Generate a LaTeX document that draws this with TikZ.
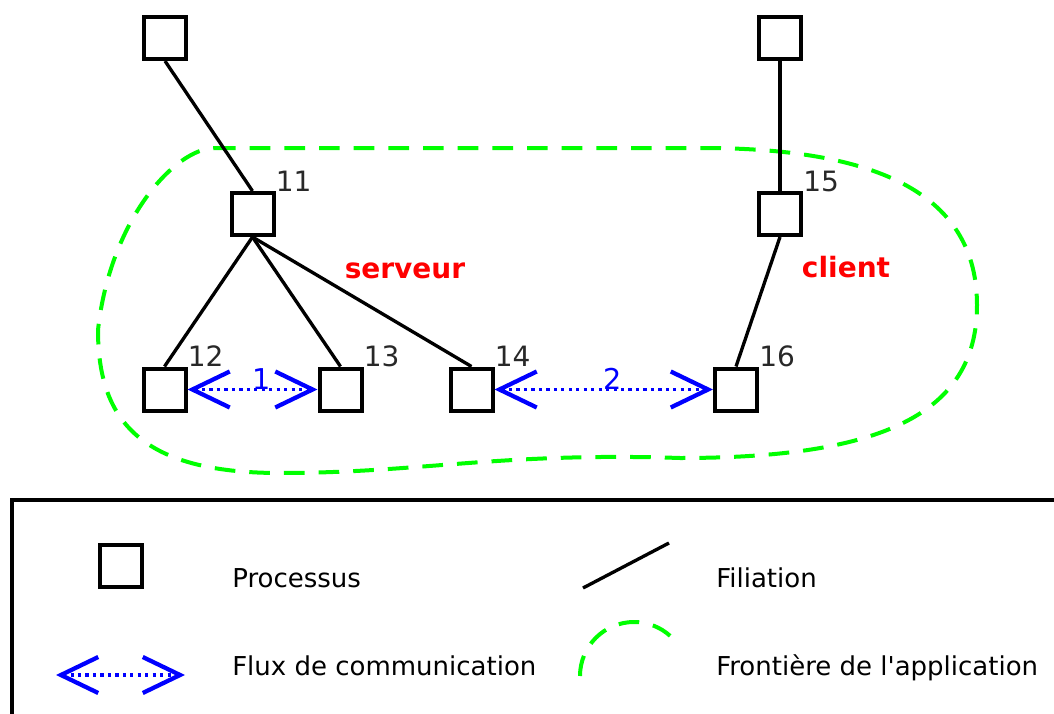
\documentclass[tikz,border=0pt]{standalone}
\usepackage{fontspec}
\setmainfont{DejaVu Sans}[Ligatures=TeXOff]
\usetikzlibrary{arrows.meta}
\definecolor{bgreen}{RGB}{0,255,0}
\definecolor{numgray}{RGB}{40,40,40}
\begin{document}
\begin{tikzpicture}[x=0.75pt,y=-0.75pt,
  proc/.style={draw=black, line width=3pt, minimum size=31.5pt, inner sep=0pt, fill=white},
  fil/.style={draw=black, line width=2.5pt},
  com/.style={draw=blue, line width=2.4pt, dash pattern=on 2.4pt off 3.2pt,
    >={Straight Barb[length=28pt,width=27pt,line width=3.2pt]}, <->},
  numlab/.style={font=\fontsize{21}{24}\selectfont, text=numgray, inner sep=0pt, anchor=base west},
  comlab/.style={font=\fontsize{21.5}{24}\selectfont, text=blue, inner sep=0pt, anchor=base},
  role/.style={font=\bfseries\fontsize{21}{24}\selectfont, text=red, inner sep=0pt, anchor=base},
  border/.style={draw=bgreen, line width=3pt, dash pattern=on 15.5pt off 10.5pt},
  legtext/.style={font=\fontsize{19.5}{23}\selectfont, text=black, inner sep=0pt, anchor=base west}]
\useasboundingbox (0,0) rectangle (1054,714);
\begin{scope}
\clip (0,0) rectangle (1054,714);
% boundary of the application
\draw[border] (215,148) -- (713,148)
  .. controls (850,150) and (977,180) .. (977,305)
  .. controls (977,415) and (880,458) .. (680,458)
  .. controls (500,452) and (420,473) .. (280,473)
  .. controls (140,473) and (98,420) .. (98,330)
  .. controls (110,220) and (175,148) .. (215,148) -- cycle;

% processes
\node[proc] (p1) at (165,38) {};
\node[proc] (p2) at (780,38) {};
\node[proc] (n11) at (252.5,214) {};
\node[proc] (n15) at (780,214) {};
\node[proc] (n12) at (164.5,389.5) {};
\node[proc] (n13) at (340.5,389.5) {};
\node[proc] (n14) at (471.5,389.5) {};
\node[proc] (n16) at (736,389.5) {};

% filiation
\draw[fil] (p1.south) -- (n11.north);
\draw[fil] (p2.south) -- (n15.north);
\draw[fil] (n11.south) -- (n12.north);
\draw[fil] (n11.south) -- (n13.north);
\draw[fil] (n11.south) -- (n14.north);
\draw[fil] (n15.south) -- (n16.north);

% numbers
\node[numlab] (l11) at (n11.north east) {11};
\node[numlab] (l15) at (n15.north east) {15};
\node[numlab] (l12) at (n12.north east) {12};
\node[numlab] (l13) at (n13.north east) {13};
\node[numlab] (l14) at (n14.north east) {14};
\node[numlab] (l16) at (n16.north east) {16};

% communication
\draw[com] (n12.east) -- node[comlab, pos=0.5, xshift=7pt] (c1) {1} (n13.west);
\draw[com] (n14.east) -- node[comlab, pos=0.5, xshift=7pt] (c2) {2} (n16.west);

% roles
\node[role] (srv) at (405,278) {serveur};
\node[role] (cli) at (846,277) {client};

% legend
\draw[line width=2.7pt] (12,730) -- (12,500) -- (1070,500);
\node[proc] (lgproc) at (120.5,566) {};
\node[legtext] (tproc) at (232,587) {Processus};
\coordinate (lf1) at (583,588);
\coordinate (lf2) at (669,543);
\draw[fil] (lf1) -- (lf2);
\node[legtext] (tfil) at (716,587) {Filiation};
\coordinate (la1) at (56,675);
\coordinate (la2) at (185,675);
\draw[com] (la1) -- (la2);
\node[legtext] (tcom) at (232,675) {Flux de communication};
\coordinate (lb1) at (580,676);
\draw[border] (lb1) arc[start angle=180, end angle=312, radius=54];
\node[legtext] (tfront) at (716,675) {Frontière de l'application};
\end{scope}
\end{tikzpicture}
\end{document}
